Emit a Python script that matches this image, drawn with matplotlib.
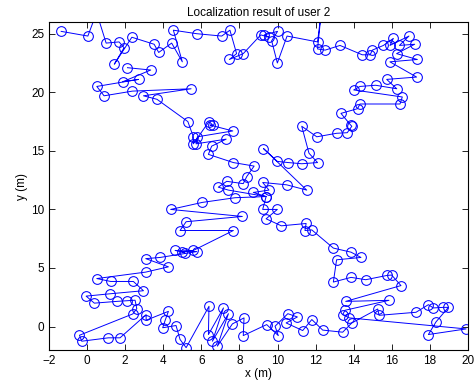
import matplotlib
matplotlib.use('Agg')
import matplotlib.pyplot as plt

# estimated positions of user 2, in walking order
# top edge, left -> right
top_x = [-1.36, 0.04, 0.5, 1.0, 1.68, 1.94, 1.43, 2.35, 3.52, 3.76, 4.44, 5.0, 4.53,
         5.76, 7.07, 7.5, 7.85, 7.47, 8.2, 9.12, 9.55, 9.3, 10.0, 9.69, 9.99, 10.5,
         12.1, 12.3, 12.1, 12.5, 13.28, 14.45, 14.86, 14.98, 15.56, 16.08, 15.9,
         16.9, 16.4, 17.2, 16.25, 17.34, 15.9, 17.3]
top_y = [25.2, 24.8, 26.8, 24.2, 24.3, 23.8, 22.4, 24.7, 24.1, 23.4, 24.2, 22.6, 25.3,
         25.0, 24.8, 25.3, 23.3, 22.8, 23.3, 24.9, 24.7, 24.9, 25.2, 24.4, 22.5, 24.8,
         24.3, 26.9, 23.7, 23.6, 24.0, 23.2, 23.2, 23.6, 24.0, 24.6, 24.0,
         24.8, 24.0, 24.1, 23.3, 22.8, 22.6, 21.3]

# diagonal from top right down to bottom left
diag1_x = [15.73, 16.26, 15.15, 14.33, 14.0, 16.55, 16.43, 14.33, 14.2, 13.33, 13.84,
           13.9, 13.66, 13.1, 12.06, 11.27, 11.65, 12.1, 11.27, 10.57, 9.99, 9.26,
           11.53, 10.48, 9.22, 9.55, 8.73, 9.4, 7.77, 6.05, 4.39, 8.15, 5.2, 4.88,
           7.68, 5.58, 4.97, 5.14, 4.62, 5.76, 3.83, 3.08, 4.27, 3.08, 0.51, 1.24,
           2.43, 2.96, 1.21, -0.05, 0.38, 1.56, 2.08, 2.52, 2.61]
diag1_y = [21.1, 20.3, 20.6, 20.5, 20.2, 19.6, 19.0, 19.0, 18.6, 18.2, 17.2,
           17.1, 16.55, 16.5, 16.2, 17.1, 14.8, 14.0, 13.9, 14.0, 14.1, 15.2,
           11.65, 12.1, 12.3, 11.65, 11.45, 11.1, 11.0, 10.6, 10.0, 9.4, 8.95, 8.2,
           8.2, 6.5, 6.4, 6.3, 6.5, 6.4, 5.9, 5.8, 5.1, 4.65, 4.1, 3.85,
           3.85, 3.06, 2.8, 2.6, 2.0, 2.15, 2.2, 2.25, 1.53]

# bottom edge, left -> right
bot_x = [2.4, -0.4, -0.28, 1.12, 1.73, 3.1, 3.1, 4.27, 4.1, 3.97, 4.67, 4.88, 5.2,
         6.4, 6.37, 7.16, 6.58, 7.42, 6.84, 7.63, 8.24, 8.2, 9.43, 10.04, 9.87,
         10.54, 11.04, 10.45, 11.32, 11.8, 12.37, 13.42, 13.9, 15.26, 15.33, 17.27,
         17.92, 18.18, 18.7, 18.97, 18.32, 17.92, 19.9]
bot_y = [1.08, -0.74, -1.25, -0.96, -0.96, 1.02, 0.54, 1.3, 0.54, -0.1, 0.09, -1.1, -1.8,
         1.73, -0.68, 1.59, -1.25, 1.1, -1.67, 0.23, 0.74, -0.77, 0.17, -0.77, 0.03,
         1.1, 0.82, 0.31, -0.34, 0.6, -0.3, -0.48, 0.31, 1.5, 0.96, 1.22,
         1.87, 1.59, 1.64, 1.64, 0.4, -0.68, -0.2]

# diagonal from bottom right up to top left
diag2_x = [13.77, 13.42, 13.54, 15.85, 13.58, 16.48, 15.99, 15.73, 14.63, 13.86, 12.93,
           13.1, 14.38, 13.86, 12.93, 11.8, 11.44, 11.5, 10.2, 9.4, 9.99, 9.22, 9.4,
           7.42, 6.89, 7.33, 8.2, 8.38, 8.77, 7.68, 6.37, 6.54, 7.3, 5.72, 5.79, 7.65,
           6.46, 6.6, 6.4, 5.58, 5.58, 5.29, 3.67, 2.96, 5.46, 2.38, 0.89, 0.51, 2.7,
           1.87, 3.34, 2.12]
diag2_y = [0.74, 1.02, 1.39, 2.24, 2.15, 3.5, 4.4, 4.36, 4.0, 4.2, 3.8,
           5.7, 5.9, 6.35, 6.7, 8.25, 8.2, 8.8, 8.6, 9.2, 10.0, 10.0, 11.1,
           11.65, 11.9, 12.4, 12.2, 12.8, 13.7, 14.0, 14.7, 15.4, 16.0, 15.6, 16.2, 16.7,
           17.2, 17.2, 17.5, 15.6, 16.2, 17.5, 19.4, 19.7, 20.3, 20.1, 19.7, 20.5, 21.1,
           20.9, 21.9, 22.1]

xs = top_x + diag1_x + bot_x + diag2_x
ys = top_y + diag1_y + bot_y + diag2_y

plt.rcParams['font.family'] = ['Liberation Sans', 'DejaVu Sans']
plt.rcParams['font.size'] = 8.5

fig = plt.figure(figsize=(4.77, 3.88), dpi=100)
ax = fig.add_axes([49 / 477, 1 - 350 / 388, 419 / 477, 328 / 388])
ax.plot(xs, ys, '-o', color='blue', linewidth=0.7, markersize=7,
        markerfacecolor='none', markeredgewidth=0.75)

ax.set_xlim(-2, 20)
ax.set_ylim(-2, 26)
ax.set_xticks(range(-2, 21, 2))
ax.set_yticks(range(0, 26, 5))
ax.tick_params(direction='in', top=True, right=True, length=4, width=0.6)
for s in ax.spines.values():
    s.set_linewidth(0.8)
ax.set_xlabel('x (m)', labelpad=1)
ax.set_ylabel('y (m)', labelpad=2)
ax.set_title('Localization result of user 2', fontsize=8.5, pad=4)

fig.savefig('out.png', dpi=100)
